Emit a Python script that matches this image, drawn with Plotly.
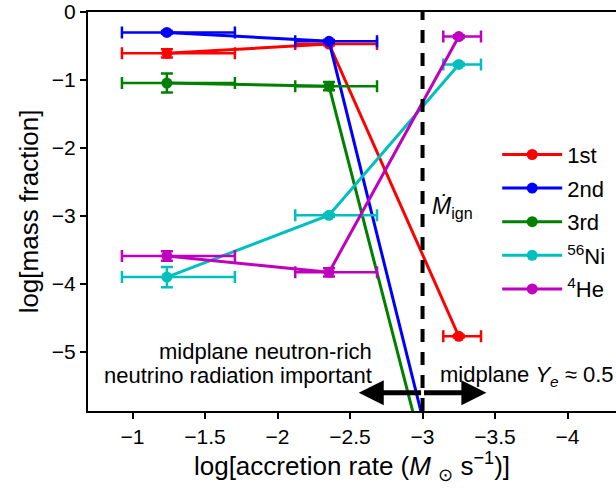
import plotly.graph_objects as go

# log10 accretion rate of the three runs
log_mdot = [-1.237, -2.355, -3.25]
# extent of the horizontal error bars (log accretion rate)
mdot_upper = [-0.927, -2.122, -3.143]
mdot_lower = [-1.706, -2.686, -3.403]

# log10 mass fractions for each species group
series_names = ["1st", "2nd", "3rd", "<sup>56</sup>Ni", "<sup>4</sup>He"]
series_colors = ["#ff0000", "#0000ff", "#008000", "#00bfbf", "#bf00bf"]
y_first = [-0.607, -0.30, -1.045, -3.90, -3.59]
y_second = [-0.47, -0.43, -1.09, -2.99, -3.83]
y_third = [-4.77, -8.12, -8.51, -0.77, -0.36]
yerr_first = [0.06, 0.02, 0.14, 0.15, 0.07]
yerr_second = [0.02, 0.02, 0.06, 0.02, 0.06]
yerr_third = [0.02, 0.02, 0.02, 0.02, 0.02]

x_tick_vals = [-1, -1.5, -2, -2.5, -3, -3.5, -4]
x_tick_text = ["−1", "−1.5", "−2", "−2.5", "−3", "−3.5", "−4"]
y_tick_vals = [0, -1, -2, -3, -4, -5]
y_tick_text = ["0", "−1", "−2", "−3", "−4", "−5"]

ignition_rate = -3.0

FONT = "Liberation Sans, Arial, sans-serif"

fig = go.Figure()

err_plus = [u - x for u, x in zip(mdot_upper, log_mdot)]
err_minus = [x - l for x, l in zip(log_mdot, mdot_lower)]

for i, name in enumerate(series_names):
    ys = [y_first[i], y_second[i], y_third[i]]
    yerr = [yerr_first[i], yerr_second[i], yerr_third[i]]
    c = series_colors[i]
    fig.add_trace(go.Scatter(
        x=log_mdot, y=ys, name=name, mode="lines+markers",
        legendgroup=f"g{i}",
        line=dict(color=c, width=3),
        marker=dict(color=c, size=11),
        error_x=dict(type="data", array=err_plus, arrayminus=err_minus,
                     symmetric=False, color=c, thickness=2.5, width=6),
        error_y=dict(type="data", array=yerr, color=c, thickness=2.5, width=6),
        cliponaxis=True,
    ))

# ignition accretion rate marker
fig.add_shape(type="line", xref="x", yref="paper", x0=ignition_rate, x1=ignition_rate,
              y0=0, y1=1, line=dict(color="black", width=4, dash="13px,10px"))

annotations = [
    dict(x=ignition_rate, y=-2.87, xref="x", yref="y", xanchor="left", yanchor="middle",
         xshift=7, text="<i>Ṁ</i><sub>ign</sub>", showarrow=False,
         font=dict(size=23, color="black", family=FONT)),
    dict(x=-2.665, y=-5.0, xref="x", yref="y", xanchor="right", yanchor="middle",
         text="midplane neutron-rich", showarrow=False,
         font=dict(size=22, color="black", family=FONT)),
    dict(x=-2.665, y=-5.35, xref="x", yref="y", xanchor="right", yanchor="middle",
         text="neutrino radiation important", showarrow=False,
         font=dict(size=22, color="black", family=FONT)),
    dict(x=-3.106, y=-5.35, xref="x", yref="y", xanchor="left", yanchor="middle",
         text="midplane <i>Y<sub>e</sub></i> ≈ 0.5", showarrow=False,
         font=dict(size=22, color="black", family=FONT)),
]
# double-headed arrow around the ignition rate
for end in (-2.56, -3.44):
    annotations.append(dict(
        x=end, y=-5.6, ax=ignition_rate, ay=-5.6, xref="x", yref="y",
        axref="x", ayref="y", text="", showarrow=True, arrowhead=2,
        arrowsize=1.0, arrowwidth=5, arrowcolor="black", standoff=0))

fig.update_layout(
    width=616, height=495,
    margin=dict(l=88, r=0, t=8, b=84),
    paper_bgcolor="white", plot_bgcolor="white",
    font=dict(family=FONT, size=21, color="black"),
    showlegend=True,
    legend=dict(x=0.775, y=0.695, xanchor="left", yanchor="top", itemwidth=60,
                tracegroupgap=2,
                bgcolor="rgba(0,0,0,0)", font=dict(size=22, family=FONT)),
    annotations=annotations,
)

fig.update_xaxes(
    range=[-0.693, -4.334], autorange=False,
    tickvals=x_tick_vals, ticktext=x_tick_text,
    ticks="outside", ticklen=6, tickwidth=2, tickcolor="black",
    showline=True, linecolor="black", linewidth=2, mirror=True,
    showgrid=False, zeroline=False,
    tickfont=dict(size=21, family=FONT),
    title=dict(text="log[accretion rate (<i>M</i> <sub>⊙</sub> s<sup>−1</sup>)]",
               font=dict(size=26, family=FONT), standoff=4),
)
fig.update_yaxes(
    range=[-5.87, 0.001], autorange=False,
    tickvals=y_tick_vals, ticktext=y_tick_text,
    ticks="outside", ticklen=6, tickwidth=2, tickcolor="black",
    ticklabeloverflow="allow",
    showline=True, linecolor="black", linewidth=2, mirror=False,
    showgrid=False, zeroline=False,
    tickfont=dict(size=21, family=FONT),
    title=dict(text="log[mass fraction]", font=dict(size=26, family=FONT), standoff=6),
)

fig.write_html("out.html")
